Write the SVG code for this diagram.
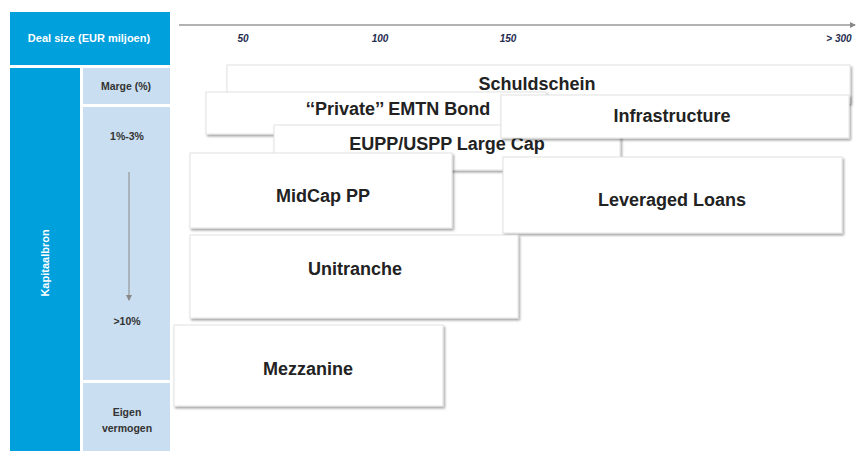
<svg xmlns="http://www.w3.org/2000/svg" width="858" height="451" viewBox="0 0 858 451">
<style>
.dark{fill:#00A0DC}
.light{fill:#C9DEF0}
.hdr{font-family:"Liberation Sans",Arial,sans-serif;font-weight:bold;fill:#fff}
.lbl{font-family:"Liberation Sans",Arial,sans-serif;font-weight:bold;fill:#333;font-size:10.5px;text-anchor:middle}
.ax{font-family:"Liberation Sans",Arial,sans-serif;font-weight:bold;font-style:italic;fill:#1F2D50;font-size:10px;text-anchor:middle}
.box rect{fill:#fff;stroke:#E2E2E2;stroke-width:1;filter:url(#sh)}
.box text{font-family:"Liberation Sans",Arial,sans-serif;font-weight:bold;fill:#222;font-size:18px;text-anchor:middle}
</style>
<defs>
<filter id="sh" x="-10%" y="-10%" width="120%" height="130%">
<feDropShadow dx="1.5" dy="2" stdDeviation="1.2" flood-color="#000" flood-opacity="0.35"/>
</filter>
<marker id="ah" markerWidth="6" markerHeight="6" refX="5" refY="3" orient="auto" markerUnits="userSpaceOnUse">
<path d="M0,0 L6,3 L0,6 z" fill="#888"/>
</marker>
</defs>
<rect width="858" height="451" fill="#fff"/>
<g id="panel">
<rect class="dark" x="10" y="12" width="160" height="53"/>
<text class="hdr" x="89" y="42" font-size="11" text-anchor="middle">Deal size (EUR miljoen)</text>
<rect class="dark" x="10" y="68" width="70" height="383"/>
<text class="hdr" font-size="11" text-anchor="middle" transform="translate(49,263) rotate(-90)">Kapitaalbron</text>
<rect class="light" x="83" y="68" width="87" height="36"/>
<text class="lbl" x="126" y="90">Marge (%)</text>
<rect class="light" x="83" y="107" width="87" height="273"/>
<text class="lbl" x="127" y="140">1%-3%</text>
<text class="lbl" x="127" y="325">&gt;10%</text>
<rect class="light" x="83" y="383" width="87" height="68"/>
<text class="lbl" x="127" y="416">Eigen</text>
<text class="lbl" x="127" y="432">vermogen</text>
</g>
<g id="connectors">
<line x1="129" y1="172" x2="129" y2="300" stroke="#888" stroke-width="1" marker-end="url(#ah)"/>
<line x1="179" y1="25" x2="855" y2="25" stroke="#999" stroke-width="1.5" marker-end="url(#ah)"/>
</g>
<g id="axis">
<text class="ax" x="243" y="42">50</text>
<text class="ax" x="380" y="42">100</text>
<text class="ax" x="508" y="42">150</text>
<text class="ax" x="839" y="42">&gt; 300</text>
</g>
<g id="schuldschein" class="box"><rect x="227" y="65" width="623" height="38"/><text x="537" y="90">Schuldschein</text></g>
<g id="emtn" class="box"><rect x="206" y="92" width="340" height="42"/><text x="398" y="115">‘‘Private’’ EMTN Bond</text></g>
<g id="eupp" class="box"><rect x="274" y="125" width="346" height="45"/><text x="447" y="150">EUPP/USPP Large Cap</text></g>
<g id="infrastructure" class="box"><rect x="501" y="95" width="348" height="43"/><text x="672" y="122">Infrastructure</text></g>
<g id="midcap" class="box"><rect x="190" y="153" width="262" height="75"/><text x="323" y="202">MidCap PP</text></g>
<g id="leveraged" class="box"><rect x="503" y="157" width="339" height="76"/><text x="672" y="206">Leveraged Loans</text></g>
<g id="unitranche" class="box"><rect x="190" y="235" width="328" height="83"/><text x="355" y="275">Unitranche</text></g>
<g id="mezzanine" class="box"><rect x="174" y="325" width="269" height="81"/><text x="308" y="375">Mezzanine</text></g>
</svg>
